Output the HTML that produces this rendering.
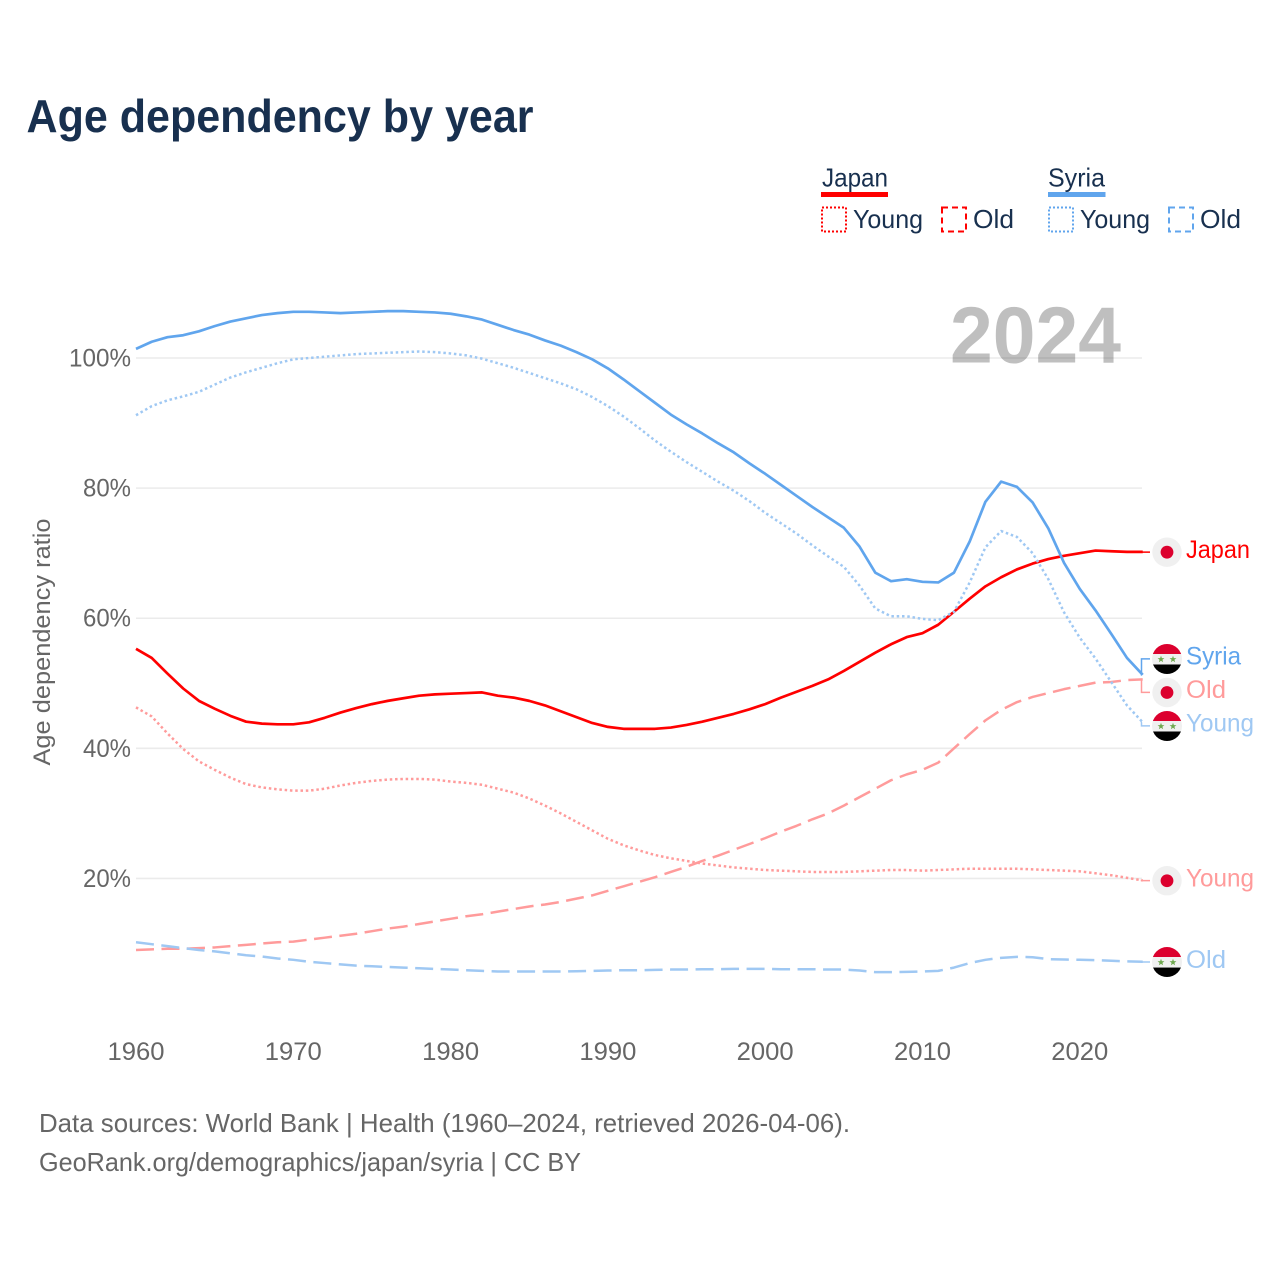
<!DOCTYPE html>
<html lang="en">
<head>
<meta charset="utf-8">
<title>Age dependency by year</title>
<style>
html,body{margin:0;padding:0;background:#fff;width:1280px;height:1280px;overflow:hidden}
svg{display:block}
text{font-family:"Liberation Sans",sans-serif}
</style>
</head>
<body>
<svg id="chart" xmlns="http://www.w3.org/2000/svg" width="1280" height="1280" viewBox="0 0 1280 1280">
  <rect width="1280" height="1280" fill="#fff"/>
  <text x="26.500" y="132" font-size="46" font-weight="700" fill="#18304f" textLength="507" lengthAdjust="spacingAndGlyphs">Age dependency by year</text>

  <g font-size="26" fill="#18304f">
    <text x="822" y="186.500" textLength="66" lengthAdjust="spacingAndGlyphs">Japan</text>
    <rect x="821" y="192" width="67" height="5" fill="#ff0000"/>
    <rect x="822" y="207.500" width="24" height="24" fill="none" stroke="#ff0000" stroke-width="2" stroke-dasharray="2 2"/>
    <text x="853" y="228" textLength="70" lengthAdjust="spacingAndGlyphs">Young</text>
    <rect x="942" y="207.500" width="24" height="24" fill="none" stroke="#ff0000" stroke-width="2" stroke-dasharray="6 4"/>
    <text x="973" y="228" textLength="41" lengthAdjust="spacingAndGlyphs">Old</text>
    <text x="1048" y="186.500" textLength="57" lengthAdjust="spacingAndGlyphs">Syria</text>
    <rect x="1048" y="192" width="57.500" height="5" fill="#60a5ed"/>
    <rect x="1049" y="207.500" width="24" height="24" fill="none" stroke="#60a5ed" stroke-width="2" stroke-dasharray="2 2"/>
    <text x="1080" y="228" textLength="70" lengthAdjust="spacingAndGlyphs">Young</text>
    <rect x="1169" y="207.500" width="24" height="24" fill="none" stroke="#60a5ed" stroke-width="2" stroke-dasharray="6 4"/>
    <text x="1200" y="228" textLength="41" lengthAdjust="spacingAndGlyphs">Old</text>
  </g>

  <g id="grid"></g>
  <text transform="translate(50,642) rotate(-90)" text-anchor="middle" font-size="24.500" fill="#666" textLength="247" lengthAdjust="spacingAndGlyphs">Age dependency ratio</text>
  <g id="yticks"></g>
  <g id="xticks"></g>
  <text x="950" y="362.500" font-size="80" font-weight="700" fill="#000" fill-opacity="0.25" textLength="171" lengthAdjust="spacingAndGlyphs">2024</text>
  <g id="series"></g>
  <g id="labels"></g>

  <text x="39" y="1132" font-size="26" fill="#666" textLength="811" lengthAdjust="spacingAndGlyphs">Data sources: World Bank | Health (1960–2024, retrieved 2026-04-06).</text>
  <text x="39" y="1171" font-size="26" fill="#666" textLength="542" lengthAdjust="spacingAndGlyphs">GeoRank.org/demographics/japan/syria | CC BY</text>
</svg>
<script>
const yearStart = 1960;
const xTickYears = [1960, 1970, 1980, 1990, 2000, 2010, 2020];
const yTickValues = [20, 40, 60, 80, 100];

const japanTotal = [55.3,53.9,51.5,49.2,47.3,46.1,45,44.1,43.8,43.7,43.7,44,44.7,45.5,46.2,46.8,47.3,47.7,48.1,48.3,48.4,48.5,48.6,48.1,47.8,47.3,46.6,45.7,44.8,43.9,43.3,43,43,43,43.2,43.6,44.1,44.7,45.3,46,46.8,47.8,48.7,49.6,50.6,51.9,53.3,54.7,56,57.1,57.7,59,61,63,64.9,66.3,67.5,68.4,69.1,69.6,70,70.4,70.3,70.2,70.2];
const japanYoung = [46.3,44.9,42.3,39.9,38,36.7,35.5,34.5,34,33.7,33.5,33.5,33.8,34.3,34.7,35,35.2,35.3,35.3,35.2,34.9,34.7,34.4,33.8,33.2,32.3,31.2,30,28.7,27.4,26.1,25.1,24.3,23.6,23.1,22.7,22.3,22,21.7,21.5,21.3,21.2,21.1,21,21,21,21.1,21.2,21.3,21.3,21.2,21.3,21.4,21.5,21.5,21.5,21.5,21.4,21.3,21.2,21.1,20.8,20.5,20.1,19.7];
const japanOld = [9,9.1,9.2,9.2,9.3,9.4,9.6,9.8,10,10.2,10.3,10.6,10.9,11.2,11.5,11.9,12.3,12.6,13,13.4,13.8,14.2,14.5,14.9,15.3,15.7,16,16.4,16.9,17.4,18.1,18.8,19.5,20.2,21,21.8,22.7,23.5,24.4,25.3,26.2,27.2,28.1,29.1,30,31.2,32.5,33.8,35.1,36,36.7,37.8,40,42.2,44.3,45.9,47.1,47.9,48.5,49.1,49.6,50.1,50.2,50.5,50.6];
const syriaTotal = [101.4,102.5,103.2,103.5,104.1,104.9,105.6,106.1,106.6,106.9,107.1,107.1,107,106.9,107,107.1,107.2,107.2,107.1,107,106.8,106.4,105.9,105.1,104.3,103.6,102.7,101.9,100.9,99.8,98.4,96.7,94.9,93.1,91.3,89.8,88.4,86.9,85.5,83.8,82.2,80.5,78.8,77.1,75.5,73.9,71,67,65.7,66,65.6,65.5,67,71.8,77.9,81,80.2,77.8,73.8,68.5,64.5,61.2,57.6,53.9,51.3];
const syriaYoung = [91.2,92.6,93.5,94.1,94.8,95.9,97,97.8,98.5,99.2,99.8,100,100.2,100.4,100.6,100.7,100.8,100.9,101,100.9,100.7,100.4,99.9,99.2,98.5,97.7,96.9,96.1,95.2,94,92.6,91,89.2,87.3,85.6,84,82.5,81,79.6,78,76.2,74.6,73,71.2,69.5,67.9,65,61.5,60.3,60.3,59.9,59.7,61,65.5,70.9,73.4,72.5,70,66,60.9,57,53.8,50.2,46.6,44];
const syriaOld = [10.2,9.9,9.6,9.3,9,8.8,8.5,8.2,8,7.7,7.5,7.2,7,6.8,6.6,6.5,6.4,6.3,6.2,6.1,6,5.9,5.8,5.7,5.7,5.7,5.7,5.7,5.75,5.8,5.85,5.9,5.9,5.95,6,6,6.05,6.05,6.1,6.1,6.1,6.05,6.05,6.05,6,6,5.85,5.6,5.6,5.65,5.7,5.8,6.3,7,7.5,7.8,7.95,7.9,7.6,7.55,7.5,7.45,7.35,7.25,7.2];

const seriesNames = ['japan-total','japan-young','japan-old','syria-total','syria-young','syria-old'];
const seriesLabels = ['Japan','Young','Old','Syria','Young','Old'];
const seriesCountries = ['japan','japan','japan','syria','syria','syria'];
const seriesKinds = ['total','young','old','total','young','old'];
const seriesValues = [japanTotal, japanYoung, japanOld, syriaTotal, syriaYoung, syriaOld];

const NS = 'http://www.w3.org/2000/svg';
const xScale = year => 136 + (year - 1960) * 15.73;
const yScale = v => 1008.6 - v * 6.506;
const lastX = 1142;
const colors = {
  japan: {total: '#ff0000', young: '#ff9b9b', old: '#ff9b9b'},
  syria: {total: '#60a5ed', young: '#9fc8f3', old: '#9fc8f3'}
};
const dashes = {total: '', young: '2.5 2.8', old: '18 7.5'};

function svgEl(tag, attrs, parent) {
  const el = document.createElementNS(NS, tag);
  for (const k in attrs) el.setAttribute(k, attrs[k]);
  parent.appendChild(el);
  return el;
}

const gridG = document.getElementById('grid');
const yG = document.getElementById('yticks');
yTickValues.forEach(v => {
  const line = svgEl('line', {x1: 136, x2: lastX, y1: yScale(v), y2: yScale(v), stroke: '#ebebeb', 'stroke-width': 1.6}, gridG);
  
  
  const t = svgEl('text', {x: 131, y: yScale(v) + 8.5, 'text-anchor': 'end', 'font-size': 25, fill: '#666', textLength: v >= 100 ? 62 : 48, lengthAdjust: 'spacingAndGlyphs'}, yG);
  t.textContent = v + '%';
  
  
});

const xG = document.getElementById('xticks');
xTickYears.forEach(yr => {
  const t = svgEl('text', {x: xScale(yr), y: 1060, 'text-anchor': 'middle', 'font-size': 25, fill: '#666', textLength: 57, lengthAdjust: 'spacingAndGlyphs'}, xG);
  t.textContent = String(yr);
  
  
});

const seriesG = document.getElementById('series');
seriesValues.forEach((vals, i) => {
  const kind = seriesKinds[i];
  const d = vals.map((v, j) => (j ? 'L' : 'M') + xScale(yearStart + j).toFixed(2) + ' ' + yScale(v).toFixed(2)).join(' ');
  const p = svgEl('path', {d: d, fill: 'none', stroke: colors[seriesCountries[i]][kind], 'stroke-width': kind === 'total' ? 2.7 : 2.5, 'stroke-dasharray': dashes[kind], 'stroke-linejoin': 'round'}, seriesG);
  
  
});

/* Dodge overlapping end labels: merge into clusters with a minimum gap */
function dodge(targets, gap) {
  const order = targets.map((y, i) => i).sort((a, b) => targets[a] - targets[b]);
  let clusters = order.map(i => ({ids: [i], mean: targets[i]}));
  let changed = true;
  while (changed) {
    changed = false;
    for (let c = 0; c < clusters.length - 1; c++) {
      const A = clusters[c], B = clusters[c + 1];
      const aEnd = A.mean + (A.ids.length - 1) * gap / 2;
      const bStart = B.mean - (B.ids.length - 1) * gap / 2;
      if (bStart - aEnd < gap) {
        const ids = A.ids.concat(B.ids);
        const mean = ids.reduce((s, k) => s + targets[k], 0) / ids.length;
        clusters.splice(c, 2, {ids: ids, mean: mean});
        changed = true;
        break;
      }
    }
  }
  const out = [];
  clusters.forEach(cl => cl.ids.forEach((id, k) => {
    out[id] = cl.mean + (k - (cl.ids.length - 1) / 2) * gap;
  }));
  return out;
}

const labelsG = document.getElementById('labels');
const endYs = seriesValues.map(v => yScale(v[v.length - 1]));
const slotYs = dodge(endYs, 33.5);
const labelWidths = {Japan: 64, Syria: 55, Young: 68, Old: 40};
let clipCount = 0;

function addJapanFlag(g, cy) {
  const bg = svgEl('circle', {cx: 1167, cy: cy, r: 14.7, fill: '#f0f0f0'}, g);
  
  
  const dot = svgEl('circle', {cx: 1167, cy: cy, r: 6.4, fill: '#dc002e'}, g);
  
  
}

function addSyriaFlag(g, cy) {
  const id = 'flag-clip-' + (clipCount++);
  const clip = svgEl('clipPath', {id: id}, g);
  svgEl('circle', {cx: 1167, cy: cy, r: 15}, clip);
  const f = svgEl('g', {'clip-path': 'url(#' + id + ')'}, g);
  
  
  svgEl('rect', {x: 1152, y: cy - 16, width: 30, height: 11, fill: '#dc002e'}, f);
  svgEl('rect', {x: 1152, y: cy - 5, width: 30, height: 10.500, fill: '#f0f0f0'}, f);
  svgEl('rect', {x: 1152, y: cy + 5.5, width: 30, height: 11, fill: '#000'}, f);
  [-6, 6].forEach(dx => {
    const pts = [];
    for (let k = 0; k < 10; k++) {
      const r = k % 2 ? 1.5 : 3.6;
      const a = -Math.PI / 2 + k * Math.PI / 5;
      pts.push((1167 + dx + r * Math.cos(a)).toFixed(2) + ',' + (cy + 0.3 + r * Math.sin(a)).toFixed(2));
    }
    svgEl('polygon', {points: pts.join(' '), fill: '#6fa84f'}, f);
  });
}

seriesValues.forEach((vals, i) => {
  const country = seriesCountries[i];
  const kind = seriesKinds[i];
  const color = colors[country][kind];
  const ey = endYs[i];
  const sy = slotYs[i];
  const g = svgEl('g', {}, labelsG);
  
  
  const conn = svgEl('path', {
    d: 'M' + lastX + ' ' + ey.toFixed(2) + ' L' + (lastX - 0.5) + ' ' + ey.toFixed(2) + ' L' + (lastX - 0.5) + ' ' + (sy + 0.2).toFixed(2) + ' L1150 ' + (sy + 0.2).toFixed(2),
    fill: 'none', stroke: color, 'stroke-width': 1.5
  }, g);
  
  
  if (country === 'japan') addJapanFlag(g, sy + 0.3);
  else addSyriaFlag(g, sy + 0.3);
  const t = svgEl('text', {x: 1186, y: sy + 6, 'font-size': 25, fill: color, textLength: labelWidths[seriesLabels[i]], lengthAdjust: 'spacingAndGlyphs'}, g);
  t.textContent = seriesLabels[i];
  
  
});
</script>
</body>
</html>
